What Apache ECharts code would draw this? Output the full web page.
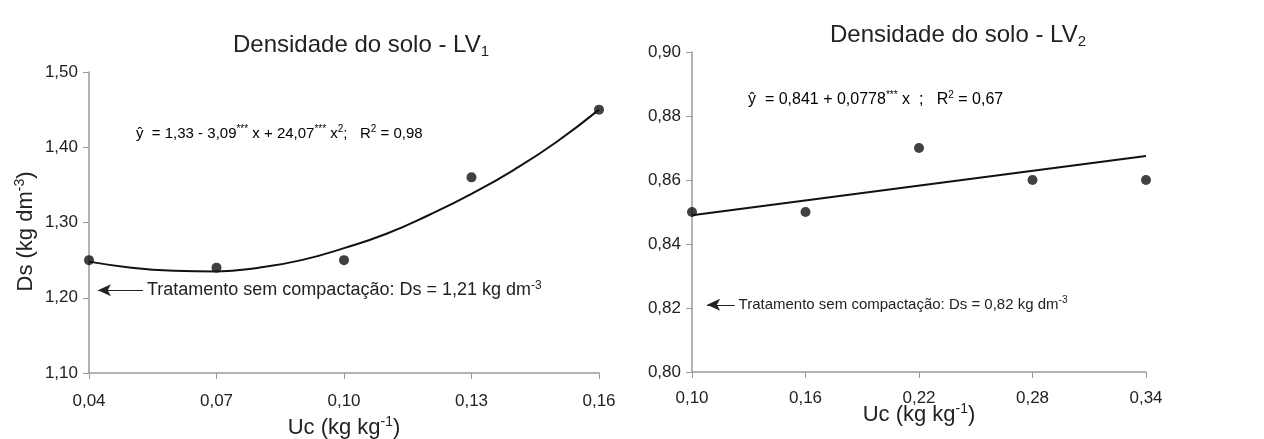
<!DOCTYPE html>
<html>
<head>
<meta charset="utf-8">
<title>Densidade do solo</title>
<script src="https://cdn.jsdelivr.net/npm/echarts@6.0.0/dist/echarts.min.js"></script>
<style>
  html, body { margin: 0; padding: 0; background: #fff; }
  #chart { width: 1264px; height: 439px; }
</style>
</head>
<body>
<div id="chart"></div>
<script>
// LV1 - pontos observados
const lv1Uc = [0.04, 0.07, 0.10, 0.13, 0.16];
const lv1Ds = [1.25, 1.24, 1.25, 1.36, 1.45];
// LV1 - curva ajustada
const lv1FitUc = [0.04, 0.05, 0.06, 0.07, 0.08, 0.09, 0.10, 0.11, 0.12, 0.13, 0.14, 0.15, 0.16];
const lv1FitDs = [1.248, 1.240, 1.236, 1.235, 1.240, 1.250, 1.266, 1.285, 1.310, 1.338, 1.370, 1.407, 1.450];
const lv1XTicks = [0.04, 0.07, 0.10, 0.13, 0.16];
const lv1YTicks = [1.10, 1.20, 1.30, 1.40, 1.50];
const lv1RefDs = 1.21;

// LV2 - pontos observados
const lv2Uc = [0.10, 0.16, 0.22, 0.28, 0.34];
const lv2Ds = [0.85, 0.85, 0.87, 0.86, 0.86];
// LV2 - reta ajustada (extremos)
const lv2FitUc = [0.10, 0.34];
const lv2FitDs = [0.849, 0.8675];
const lv2XTicks = [0.10, 0.16, 0.22, 0.28, 0.34];
const lv2YTicks = [0.80, 0.82, 0.84, 0.86, 0.88, 0.90];
const lv2RefDs = 0.821;

const FONT = '"Liberation Sans", Arial, sans-serif';
const TXT = '#222';

const fmt = v => v.toFixed(2).replace('.', ',');
const pairs = (xs, ys) => xs.map((x, i) => [x, ys[i]]);

// estilos de texto com sobrescrito / subscrito
function richText(size) {
  const small = Math.round(size * 0.64);
  return {
    t: { fontSize: size, color: TXT, fontFamily: FONT, fontWeight: 'normal', lineHeight: size + 4 },
    s: { fontSize: small, color: TXT, fontFamily: FONT, fontWeight: 'normal', verticalAlign: 'top', lineHeight: small },
    b: { fontSize: small, color: TXT, fontFamily: FONT, fontWeight: 'normal', verticalAlign: 'bottom', lineHeight: small }
  };
}

function xAxisCfg(idx, min, max, ticks, gap, labelMargin) {
  return {
    type: 'value', gridIndex: idx, min: min, max: max,
    name: '{t|Uc (kg kg}{s|-1}{t|)}',
    nameLocation: 'middle', nameGap: gap, nameMoveOverlap: false,
    nameTextStyle: { rich: richText(22) },
    axisLine: { lineStyle: { color: '#9a9a9a', width: 1.5 } },
    axisTick: { show: true, length: 6, lineStyle: { color: '#9a9a9a' }, customValues: ticks },
    axisLabel: { color: TXT, fontSize: 17, fontFamily: FONT, margin: labelMargin, customValues: ticks, formatter: fmt },
    splitLine: { show: false }
  };
}

function yAxisCfg(idx, min, max, ticks) {
  return {
    type: 'value', gridIndex: idx, min: min, max: max,
    axisLine: { show: true, lineStyle: { color: '#9a9a9a', width: 1.5 } },
    axisTick: { show: true, length: 6, lineStyle: { color: '#9a9a9a' }, customValues: ticks },
    axisLabel: { color: TXT, fontSize: 17, fontFamily: FONT, margin: 11, customValues: ticks, formatter: fmt },
    splitLine: { show: false }
  };
}

function refLine(x1, x2, y, label) {
  return {
    silent: true,
    animation: false,
    symbol: ['arrow', 'none'],
    symbolSize: [9, 13],
    lineStyle: { color: '#222', width: 1, type: 'solid' },
    label: { show: true, position: 'end', distance: 4, formatter: label.text, rich: richText(label.size) },
    data: [[{ coord: [x1, y] }, { coord: [x2, y] }]]
  };
}

const chart = echarts.init(document.getElementById('chart'));

const yAx = [yAxisCfg(0, 1.10, 1.50, lv1YTicks), yAxisCfg(1, 0.80, 0.90, lv2YTicks)];
yAx[0].name = '{t|Ds (kg dm}{s|-3}{t|)}';
yAx[0].nameLocation = 'middle';
yAx[0].nameRotate = 90;
yAx[0].nameGap = 50;
yAx[0].nameTextStyle = { rich: richText(22), padding: [0, 18, 0, 0] };

const option = {
  animation: false,
  textStyle: { fontFamily: FONT },
  title: [
    {
      text: '{t|Densidade do solo - LV}{b|1}',
      left: 356, top: 26, textAlign: 'center',
      textStyle: { fontWeight: 'normal', rich: richText(24) }
    },
    {
      text: '{t|Densidade do solo - LV}{b|2}',
      left: 953, top: 16, textAlign: 'center',
      textStyle: { fontWeight: 'normal', rich: richText(24) }
    }
  ],
  grid: [
    { left: 89, top: 72, width: 510, height: 301, outerBoundsMode: 'none', containLabel: false },
    { left: 692, top: 52, width: 454, height: 320, outerBoundsMode: 'none', containLabel: false }
  ],
  xAxis: [
    xAxisCfg(0, 0.04, 0.16, lv1XTicks, 42, 20),
    xAxisCfg(1, 0.10, 0.34, lv2XTicks, 30, 18)
  ],
  yAxis: yAx,
  graphic: [
    {
      type: 'text', x: 136, y: 134,
      style: {
        text: '{t|ŷ  = 1,33 - 3,09}{s|***}{t| x + 24,07}{s|***}{t| x}{s|2}{t|;   R}{s|2}{t| = 0,98}',
        rich: richText(15), verticalAlign: 'middle', align: 'left'
      }
    },
    {
      type: 'text', x: 748, y: 100,
      style: {
        text: '{t|ŷ  = 0,841 + 0,0778}{s|***}{t| x  ;   R}{s|2}{t| = 0,67}',
        rich: richText(16), verticalAlign: 'middle', align: 'left'
      }
    }
  ],
  series: [
    {
      type: 'line', xAxisIndex: 0, yAxisIndex: 0,
      data: pairs(lv1FitUc, lv1FitDs),
      smooth: true, showSymbol: false, symbol: 'none',
      lineStyle: { color: '#111', width: 2 },
      emphasis: { disabled: true }
    },
    {
      type: 'scatter', xAxisIndex: 0, yAxisIndex: 0,
      data: pairs(lv1Uc, lv1Ds),
      symbolSize: 10, itemStyle: { color: '#111' },
      emphasis: { disabled: true },
      markLine: refLine(0.0421, 0.0527, lv1RefDs, {
        text: '{t|Tratamento sem compactação: Ds = 1,21 kg dm}{s|-3}', size: 18
      })
    },
    {
      type: 'line', xAxisIndex: 1, yAxisIndex: 1,
      data: pairs(lv2FitUc, lv2FitDs),
      showSymbol: false, symbol: 'none',
      lineStyle: { color: '#111', width: 2 },
      emphasis: { disabled: true }
    },
    {
      type: 'scatter', xAxisIndex: 1, yAxisIndex: 1,
      data: pairs(lv2Uc, lv2Ds),
      symbolSize: 10, itemStyle: { color: '#111' },
      emphasis: { disabled: true },
      markLine: refLine(0.108, 0.1225, lv2RefDs, {
        text: '{t|Tratamento sem compactação: Ds = 0,82 kg dm}{s|-3}', size: 15
      })
    }
  ]
};

chart.setOption(option);
window.addEventListener('resize', () => chart.resize());
</script>
</body>
</html>
